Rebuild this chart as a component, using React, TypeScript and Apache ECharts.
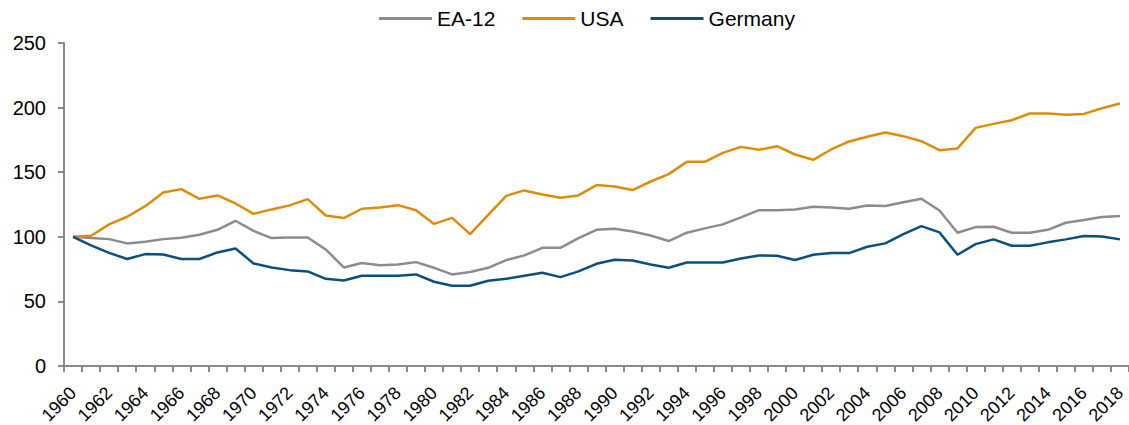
import React, { useEffect, useRef } from "react";
import * as echarts from "echarts";

const years: string[] = [];
for (let y = 1960; y <= 2018; y++) years.push(String(y));

const ea12 = [
  100, 99, 98.2, 94.9, 96.2, 98.2, 99.3, 101.6, 105.4, 112.4,
  104.6, 99, 99.5, 99.5, 90.2, 76.3, 79.7, 77.9, 78.6, 80.4,
  76, 70.9, 72.7, 76, 82, 85.6, 91.5, 91.5, 99, 105.4,
  106.2, 104.1, 101, 96.7, 103.2, 106.5, 109.6, 115, 120.6, 120.6,
  121.2, 123.2, 122.7, 121.7, 124.3, 123.8, 126.8, 129.4, 120.3, 103.1,
  107.5, 107.8, 103.1, 103.1, 105.4, 110.9, 113, 115.3, 116.1,
];

const usa = [
  100, 100.8, 109.6, 115.5, 123.7, 134.3, 136.9, 129.4, 132, 125.8,
  117.8, 121.2, 124.3, 129.2, 116.5, 114.5, 121.7, 122.7, 124.5, 120.6,
  110, 114.6, 102.1, 116.9, 131.7, 135.9, 132.8, 130.2, 132, 140,
  139, 136.2, 142.8, 148.5, 158, 158, 165, 169.6, 167.3, 170.1,
  163.7, 159.6, 167.6, 173.8, 177.4, 180.7, 177.9, 174, 167, 168.4,
  184.3, 187.4, 190.2, 195.4, 195.4, 194.4, 195.1, 199.5, 203.2,
];

const germany = [
  100, 93.3, 87.6, 82.8, 86.6, 86.3, 82.8, 82.8, 87.9, 91,
  79.4, 76.3, 74.2, 73.2, 67.5, 66.2, 69.9, 69.9, 69.9, 70.9,
  65.2, 62.1, 62.1, 66, 67.5, 69.9, 72.2, 68.8, 73.2, 79.1,
  82.3, 81.7, 78.6, 76, 80.1, 80.1, 80.1, 83.2, 85.6, 85.3,
  82, 86.1, 87.4, 87.4, 92.3, 94.9, 102.1, 108.3, 103.4, 86.1,
  94.3, 98, 93.1, 93.1, 95.7, 98, 100.6, 100.3, 98,
];

const FONT = "'Liberation Sans', Arial, sans-serif";
const AXIS_COLOR = "#898989";

export default function App() {
  const ref = useRef<HTMLDivElement>(null);
  useEffect(() => {
    if (!ref.current) return;
    const chart = echarts.init(ref.current, undefined, { renderer: "svg" });
    chart.setOption({
      animation: false,
      textStyle: { fontFamily: FONT },
      legend: {
        left: 374,
        top: 3,
        icon: "rect",
        itemWidth: 53,
        itemHeight: 3,
        itemGap: 27,
        textStyle: { fontSize: 21, color: "#000", fontFamily: FONT },
        data: ["EA-12", "USA", "Germany"],
      },
      grid: {
        left: 64,
        right: 0,
        top: 43,
        bottom: 59,
        containLabel: false,
        outerBoundsMode: "none",
      },
      xAxis: {
        type: "category",
        data: years,
        boundaryGap: true,
        axisLine: { show: true, lineStyle: { color: AXIS_COLOR, width: 2 } },
        axisTick: { show: true, interval: 0, length: 6, lineStyle: { color: AXIS_COLOR, width: 2 } },
        axisLabel: {
          interval: 1,
          rotate: 45,
          fontSize: 18,
          color: "#000",
          margin: 24,
          fontFamily: FONT,
        },
        splitLine: { show: false },
      },
      yAxis: {
        type: "value",
        min: 0,
        max: 250,
        interval: 50,
        axisLine: { show: true, lineStyle: { color: AXIS_COLOR, width: 2 } },
        axisTick: { show: true, length: 6, lineStyle: { color: AXIS_COLOR, width: 2 } },
        axisLabel: { fontSize: 20, color: "#000", margin: 18, fontFamily: FONT },
        splitLine: { show: false },
      },
      series: [
        {
          name: "EA-12",
          type: "line",
          data: ea12,
          symbol: "none",
          color: "#8c8c8c",
          lineStyle: { width: 2.5, color: "#8c8c8c" },
        },
        {
          name: "USA",
          type: "line",
          data: usa,
          symbol: "none",
          color: "#dc8c0c",
          lineStyle: { width: 2.5, color: "#dc8c0c" },
        },
        {
          name: "Germany",
          type: "line",
          data: germany,
          symbol: "none",
          color: "#0b4f7c",
          lineStyle: { width: 2.5, color: "#0b4f7c" },
        },
      ],
    });
    return () => chart.dispose();
  }, []);
  return (
    <div
      ref={ref}
      style={{ position: "fixed", left: 0, top: 0, width: 1129, height: 425, background: "#fff" }}
    />
  );
}
